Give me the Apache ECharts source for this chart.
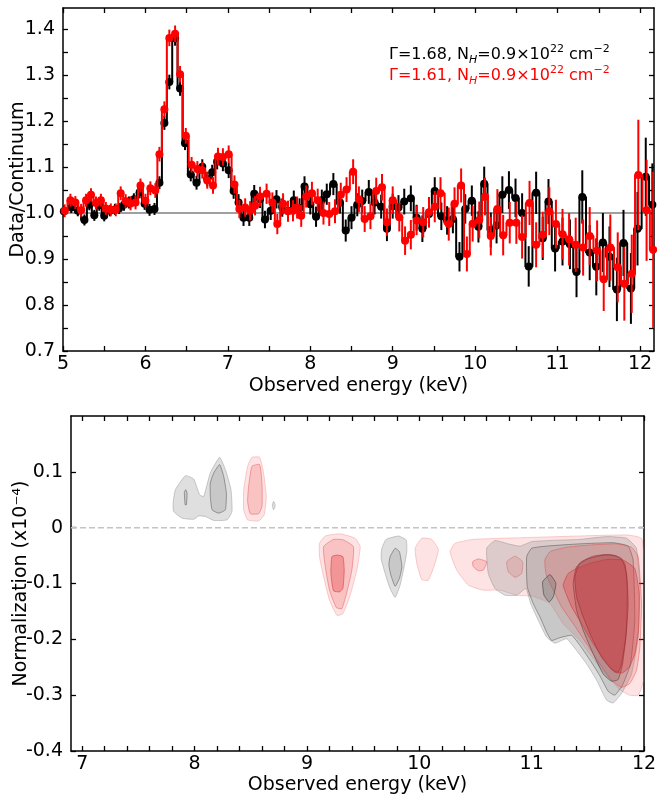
<!DOCTYPE html>
<html><head><meta charset="utf-8">
<script src="https://cdn.jsdelivr.net/npm/echarts@6/dist/echarts.min.js"></script>
<style>html,body{margin:0;padding:0;background:#fff}#c{width:657px;height:798px}</style>
</head><body><div id="c"></div>
<script>
const FONT = 'DejaVu Sans';

// ---------- top panel: [energy keV, data/continuum, 1-sigma error] ----------
const blackData = [
[5.01,1.004,0.012],[5.10,1.012,0.012],[5.18,1.005,0.012],[5.26,0.985,0.012],[5.32,1.018,0.012],
[5.38,0.995,0.012],[5.44,1.017,0.012],[5.50,0.994,0.012],[5.57,1.005,0.012],[5.63,1.008,0.012],
[5.68,1.010,0.012],[5.74,1.018,0.013],[5.80,1.023,0.013],[5.86,1.030,0.013],[5.93,1.045,0.013],
[5.99,1.020,0.013],[6.05,1.007,0.013],[6.11,1.009,0.013],[6.17,1.066,0.014],[6.23,1.196,0.015],
[6.29,1.285,0.016],[6.36,1.380,0.016],[6.42,1.271,0.016],[6.48,1.152,0.015],[6.55,1.084,0.015],
[6.62,1.066,0.015],[6.69,1.101,0.016],[6.75,1.074,0.016],[6.81,1.089,0.016],[6.87,1.112,0.017],
[6.94,1.108,0.017],[7.01,1.093,0.017],[7.07,1.048,0.017],[7.13,1.023,0.018],[7.19,0.990,0.018],
[7.26,0.990,0.018],[7.32,1.042,0.019],[7.39,1.030,0.019],[7.45,0.986,0.019],[7.52,1.005,0.020],
[7.59,1.030,0.020],[7.66,1.012,0.020],[7.73,1.005,0.021],[7.80,1.028,0.021],[7.87,1.011,0.021],
[7.93,1.058,0.022],[8.00,1.019,0.022],[8.07,0.992,0.022],[8.14,1.028,0.023],[8.20,1.041,0.023],
[8.28,1.063,0.024],[8.36,1.023,0.024],[8.43,0.962,0.024],[8.50,0.990,0.025],[8.57,1.018,0.025],
[8.63,1.026,0.025],[8.71,1.046,0.026],[8.78,1.023,0.026],[8.86,1.014,0.026],[8.93,0.966,0.027],
[9.00,1.015,0.027],[9.07,1.012,0.027],[9.14,1.025,0.028],[9.22,1.032,0.028],[9.29,0.990,0.028],
[9.36,0.966,0.029],[9.44,0.998,0.029],[9.51,1.048,0.030],[9.59,0.993,0.030],[9.66,0.984,0.031],
[9.73,0.987,0.031],[9.81,0.905,0.032],[9.88,1.009,0.032],[9.96,1.027,0.033],[10.04,0.970,0.034],
[10.11,1.064,0.037],[10.19,0.963,0.038],[10.26,0.973,0.039],[10.33,1.040,0.040],[10.41,1.050,0.041],
[10.49,1.033,0.042],[10.57,1.000,0.043],[10.65,0.884,0.044],[10.74,1.044,0.046],[10.82,0.945,0.047],
[10.89,1.025,0.049],[10.97,0.923,0.050],[11.06,0.938,0.052],[11.15,0.932,0.054],[11.23,0.872,0.055],
[11.30,1.035,0.058],[11.39,0.914,0.060],[11.47,0.883,0.062],[11.55,0.936,0.064],[11.63,0.905,0.066],
[11.72,0.834,0.069],[11.80,0.935,0.072],[11.89,0.836,0.077],[11.97,0.966,0.080],[12.07,1.079,0.085],
[12.15,1.018,0.090]
];
const redData = [
[5.02,1.005,0.014],[5.09,1.028,0.014],[5.15,1.023,0.014],[5.22,1.006,0.014],[5.28,1.028,0.014],
[5.34,1.040,0.014],[5.40,1.022,0.014],[5.46,1.028,0.014],[5.52,1.010,0.014],[5.58,1.007,0.014],
[5.64,1.007,0.014],[5.70,1.043,0.015],[5.76,1.026,0.015],[5.82,1.021,0.015],[5.88,1.023,0.015],
[5.94,1.060,0.015],[6.00,1.027,0.015],[6.06,1.054,0.015],[6.12,1.049,0.016],[6.17,1.128,0.016],
[6.23,1.226,0.017],[6.29,1.381,0.018],[6.36,1.390,0.018],[6.42,1.302,0.018],[6.49,1.168,0.017],
[6.56,1.105,0.017],[6.63,1.096,0.017],[6.69,1.093,0.018],[6.75,1.071,0.018],[6.82,1.060,0.018],
[6.88,1.123,0.019],[6.94,1.122,0.019],[7.01,1.128,0.019],[7.08,1.062,0.020],[7.14,1.009,0.020],
[7.21,1.012,0.020],[7.27,1.005,0.021],[7.33,1.016,0.021],[7.39,1.036,0.021],[7.47,1.042,0.022],
[7.54,1.023,0.022],[7.60,0.976,0.022],[7.67,1.020,0.023],[7.73,1.004,0.023],[7.79,1.005,0.023],
[7.84,1.012,0.024],[7.89,0.994,0.024],[7.95,1.036,0.024],[8.02,1.043,0.025],[8.09,1.028,0.025],
[8.16,1.000,0.025],[8.23,0.998,0.026],[8.30,1.004,0.026],[8.37,1.040,0.026],[8.44,1.051,0.027],
[8.52,1.090,0.027],[8.59,1.030,0.028],[8.66,0.987,0.028],[8.73,0.993,0.028],[8.80,1.048,0.029],
[8.87,1.056,0.029],[8.93,0.980,0.030],[9.00,1.028,0.030],[9.08,0.991,0.031],[9.15,0.940,0.031],
[9.22,0.953,0.032],[9.29,0.984,0.032],[9.37,0.980,0.033],[9.44,1.002,0.033],[9.51,1.014,0.034],
[9.58,1.043,0.035],[9.68,0.976,0.036],[9.75,1.020,0.036],[9.83,1.060,0.037],[9.90,0.911,0.038],
[9.97,0.977,0.039],[10.05,0.985,0.040],[10.12,1.036,0.041],[10.19,0.950,0.042],[10.27,1.009,0.043],
[10.34,0.952,0.044],[10.42,0.979,0.045],[10.50,0.979,0.046],[10.57,0.948,0.047],[10.66,1.022,0.048],
[10.74,0.931,0.049],[10.82,0.953,0.050],[10.90,1.004,0.052],[10.98,0.976,0.053],[11.06,0.954,0.055],
[11.14,0.943,0.057],[11.22,0.931,0.059],[11.31,0.925,0.061],[11.39,0.950,0.063],[11.48,0.918,0.066],
[11.56,0.856,0.069],[11.64,0.925,0.072],[11.73,0.882,0.076],[11.81,0.846,0.080],[11.90,0.868,0.085],
[11.98,1.083,0.120],[12.08,1.006,0.110],[12.16,0.920,0.170]
];
const topRefLine = [[5, 1.0], [12.17, 1.0]];
const topXTicks = [5,5.5,6,6.5,7,7.5,8,8.5,9,9.5,10,10.5,11,11.5,12];
const topXLabels = [5,6,7,8,9,10,11,12];
const topYTicks = [0.7,0.75,0.8,0.85,0.9,0.95,1.0,1.05,1.1,1.15,1.2,1.25,1.3,1.35,1.4];
const topYLabels = [0.7,0.8,0.9,1.0,1.1,1.2,1.3,1.4];

// ---------- bottom panel: contour polygons [energy keV, normalization x1e-4] ----------
const botZeroLine = [[6.9, 0], [12, 0]];
const botXTicks = [7,7.2,7.4,7.6,7.8,8,8.2,8.4,8.6,8.8,9,9.2,9.4,9.6,9.8,10,10.2,10.4,10.6,10.8,11,11.2,11.4,11.6,11.8,12];
const botXLabels = [7,8,9,10,11,12];
const botYTicks = [-0.4,-0.3,-0.2,-0.1,0,0.1];
const botYLabels = [-0.4,-0.3,-0.2,-0.1,0,0.1];

const gray8Outer = [[7.809,0.044],[7.829,0.068],[7.918,0.093],[7.992,0.087],[8.045,0.059],[8.081,0.056],[8.140,0.098],[8.223,0.126],[8.274,0.104],[8.324,0.068],[8.333,0.029],[8.289,0.014],[8.170,0.013],[8.096,0.020],[8.037,0.021],[7.992,0.015],[7.889,0.017],[7.814,0.029]];
const gray8Inner = [[8.140,0.080],[8.170,0.098],[8.223,0.113],[8.259,0.092],[8.283,0.062],[8.274,0.032],[8.214,0.026],[8.156,0.032],[8.140,0.056]];
const gray8Spot = [[7.909,0.063],[7.921,0.068],[7.933,0.062],[7.927,0.041],[7.916,0.041]];
const red85Outer = [[8.437,0.068],[8.472,0.110],[8.511,0.126],[8.579,0.126],[8.614,0.098],[8.638,0.056],[8.620,0.023],[8.570,0.012],[8.472,0.014],[8.437,0.032]];
const red85Inner = [[8.481,0.074],[8.511,0.110],[8.579,0.113],[8.600,0.080],[8.600,0.038],[8.570,0.025],[8.496,0.025],[8.472,0.047]];
const gray87Dot = [[8.692,0.040],[8.703,0.047],[8.718,0.040],[8.703,0.032]];
const red93Outer = [[9.112,-0.028],[9.163,-0.015],[9.296,-0.011],[9.429,-0.019],[9.474,-0.034],[9.444,-0.076],[9.385,-0.121],[9.320,-0.154],[9.267,-0.157],[9.201,-0.130],[9.142,-0.082],[9.112,-0.052]];
const red93Mid = [[9.148,-0.034],[9.236,-0.021],[9.325,-0.022],[9.414,-0.034],[9.400,-0.076],[9.356,-0.115],[9.311,-0.145],[9.261,-0.143],[9.201,-0.112],[9.163,-0.070]];
const red93Inner = [[9.222,-0.052],[9.267,-0.049],[9.320,-0.052],[9.332,-0.076],[9.320,-0.109],[9.290,-0.115],[9.236,-0.113],[9.213,-0.082]];
const gray98Outer = [[9.667,-0.037],[9.705,-0.021],[9.814,-0.015],[9.883,-0.022],[9.889,-0.043],[9.865,-0.070],[9.829,-0.103],[9.785,-0.125],[9.740,-0.109],[9.696,-0.082],[9.660,-0.055]];
const gray98Inner = [[9.740,-0.052],[9.785,-0.037],[9.823,-0.043],[9.845,-0.070],[9.823,-0.091],[9.785,-0.105],[9.747,-0.085],[9.729,-0.067]];
const red100 = [[9.963,-0.037],[10.022,-0.019],[10.111,-0.021],[10.170,-0.039],[10.140,-0.064],[10.081,-0.094],[10.022,-0.093],[9.978,-0.064]];
const redC1 = [[10.274,-0.043],[10.318,-0.028],[10.481,-0.021],[11.074,-0.017],[11.844,-0.013],[11.978,-0.019],[12.0,-0.058],[12.0,-0.270],[11.950,-0.300],[11.870,-0.300],[11.785,-0.290],[11.607,-0.250],[11.429,-0.202],[11.281,-0.172],[11.163,-0.136],[11.014,-0.123],[10.867,-0.121],[10.718,-0.112],[10.570,-0.112],[10.437,-0.103],[10.333,-0.076]];
const redIsle1 = [[10.475,-0.061],[10.525,-0.056],[10.600,-0.061],[10.570,-0.076],[10.525,-0.077],[10.481,-0.070]];
const redIsle2 = [[10.778,-0.061],[10.852,-0.051],[10.920,-0.061],[10.911,-0.082],[10.852,-0.089],[10.793,-0.079]];
const grayC1 = [[10.600,-0.037],[10.674,-0.023],[10.792,-0.029],[10.896,-0.033],[11.000,-0.025],[11.163,-0.023],[11.429,-0.021],[11.667,-0.016],[11.844,-0.019],[11.933,-0.037],[11.963,-0.106],[11.948,-0.196],[11.889,-0.262],[11.800,-0.297],[11.725,-0.314],[11.667,-0.309],[11.578,-0.273],[11.489,-0.244],[11.400,-0.220],[11.311,-0.199],[11.207,-0.207],[11.133,-0.196],[11.059,-0.166],[10.991,-0.136],[10.949,-0.109],[10.867,-0.121],[10.763,-0.121],[10.674,-0.109],[10.614,-0.082]];
const grayC2 = [[10.956,-0.052],[11.000,-0.037],[11.133,-0.033],[11.429,-0.029],[11.725,-0.027],[11.859,-0.033],[11.903,-0.058],[11.918,-0.166],[11.880,-0.244],[11.809,-0.282],[11.740,-0.300],[11.681,-0.293],[11.601,-0.263],[11.512,-0.235],[11.423,-0.209],[11.356,-0.193],[11.252,-0.197],[11.178,-0.202],[11.133,-0.187],[11.074,-0.160],[11.014,-0.136],[10.961,-0.106]];
const grayC3 = [[11.370,-0.100],[11.400,-0.070],[11.489,-0.057],[11.637,-0.049],[11.756,-0.051],[11.829,-0.064],[11.850,-0.106],[11.844,-0.184],[11.809,-0.244],[11.770,-0.272],[11.711,-0.275],[11.637,-0.262],[11.548,-0.226],[11.459,-0.184],[11.400,-0.148]];
const grayCDot = [[11.098,-0.097],[11.163,-0.084],[11.216,-0.100],[11.192,-0.124],[11.157,-0.133],[11.110,-0.121]];
const redC2 = [[11.118,-0.058],[11.163,-0.043],[11.311,-0.035],[11.518,-0.031],[11.756,-0.029],[11.889,-0.035],[11.948,-0.052],[11.978,-0.136],[11.963,-0.214],[11.933,-0.256],[11.874,-0.279],[11.800,-0.286],[11.711,-0.273],[11.607,-0.244],[11.489,-0.208],[11.370,-0.172],[11.267,-0.142],[11.178,-0.106],[11.127,-0.082]];
const redC3 = [[11.281,-0.103],[11.326,-0.082],[11.400,-0.073],[11.518,-0.064],[11.667,-0.057],[11.814,-0.058],[11.918,-0.073],[11.957,-0.118],[11.951,-0.184],[11.918,-0.226],[11.868,-0.250],[11.809,-0.260],[11.740,-0.259],[11.652,-0.238],[11.548,-0.208],[11.444,-0.172],[11.356,-0.142]];
const redC4 = [[11.385,-0.088],[11.429,-0.063],[11.548,-0.051],[11.696,-0.048],[11.800,-0.055],[11.844,-0.082],[11.859,-0.136],[11.838,-0.196],[11.800,-0.244],[11.770,-0.259],[11.711,-0.254],[11.622,-0.232],[11.533,-0.196],[11.459,-0.160],[11.400,-0.124]];

// ---------- styles ----------
const STY = {
  grayLight: {fill:'rgba(150,150,150,0.30)', stroke:'rgba(120,120,120,0.45)'},
  grayMid:   {fill:'rgba(120,120,120,0.22)', stroke:'rgba(70,70,70,0.6)'},
  grayDark:  {fill:'rgba(90,90,90,0.26)',    stroke:'rgba(50,50,50,0.7)'},
  redLight:  {fill:'rgba(245,90,90,0.17)',   stroke:'rgba(240,110,110,0.4)'},
  redMid:    {fill:'rgba(240,70,70,0.20)',   stroke:'rgba(220,60,60,0.5)'},
  redDark:   {fill:'rgba(230,50,55,0.32)',   stroke:'rgba(200,40,40,0.6)'},
  redDeep:   {fill:'rgba(190,60,65,0.42)',   stroke:'rgba(150,30,40,0.6)'}
};
const layers = [
  [gray8Outer,'grayLight'],[gray8Inner,'grayMid'],[gray8Spot,'grayMid'],
  [red85Outer,'redLight'],[red85Inner,'redMid'],[gray87Dot,'grayLight'],
  [red93Outer,'redLight'],[red93Mid,'redMid'],[red93Inner,'redDark'],
  [gray98Outer,'grayLight'],[gray98Inner,'grayMid'],[red100,'redLight'],
  [redC1,'redLight'],[redIsle1,'redMid'],[redIsle2,'redMid'],
  [grayC1,'grayLight'],[grayC2,'grayMid'],[grayC3,'grayDark'],
  [redC2,'redMid'],[redC3,'redDark'],[grayCDot,'grayDark'],[redC4,'redDeep']
];

const chart = echarts.init(document.getElementById('c'), null, {renderer:'canvas'});
const AX = {color:'#000', width:1.5};
const TK = {color:'#000', width:1.3};
const LBL = {fontFamily:FONT, fontSize:19, color:'#000'};
const fmt1 = v => (Math.abs(v) < 1e-9 ? '0' : v.toFixed(1));

function xAx(grid, min, max, pos, ticks, labels, name, gap) {
  return {gridIndex:grid, type:'value', min:min, max:max, position:pos,
    axisLine:{show:true, onZero:false, lineStyle:AX},
    axisTick:{show:true, inside:true, length:5, customValues:ticks, lineStyle:TK},
    axisLabel: labels ? Object.assign({customValues:labels, margin:4}, LBL) : {show:false},
    splitLine:{show:false},
    name: name || '', nameLocation:'middle', nameGap: gap || 0, nameMoveOverlap:false, nameTextStyle: LBL};
}
function yAx(grid, min, max, pos, ticks, labels, name, gap) {
  return {gridIndex:grid, type:'value', min:min, max:max, position:pos,
    axisLine:{show:true, onZero:false, lineStyle:AX},
    axisTick:{show:true, inside:true, length:5, customValues:ticks, lineStyle:TK},
    axisLabel: labels ? Object.assign({customValues:labels, margin:8, formatter:fmt1}, LBL) : {show:false},
    splitLine:{show:false},
    name: name || '', nameLocation:'middle', nameGap: gap || 0, nameMoveOverlap:false, nameTextStyle: LBL};
}
function errRender(color) {
  return function (params, api) {
    const x = api.value(0), y = api.value(1), e = api.value(2);
    const p1 = api.coord([x, y - e]), p2 = api.coord([x, y + e]);
    return {type:'line', shape:{x1:p1[0], y1:p1[1], x2:p2[0], y2:p2[1]}, style:{stroke:color, lineWidth:2}};
  };
}
function stepSeries(data, color, z) {
  return {type:'line', xAxisIndex:0, yAxisIndex:0, data:data.map(d => [d[0], d[1]]), step:'middle',
    symbol:'circle', symbolSize:8, showAllSymbol:true, itemStyle:{color:color},
    lineStyle:{color:color, width:2}, z:z, silent:true, clip:true};
}
function errSeries(data, color, z) {
  return {type:'custom', xAxisIndex:0, yAxisIndex:0, data:data, encode:{x:0, y:1},
    renderItem: errRender(color), z:z, silent:true, clip:true};
}

const rich = col => ({
  n:{fontFamily:FONT, fontSize:16, fill:col, lineHeight:22},
  s:{fontFamily:FONT, fontSize:11, fontStyle:'italic', fill:col, verticalAlign:'bottom', lineHeight:10},
  p:{fontFamily:FONT, fontSize:11, fill:col, verticalAlign:'top', lineHeight:12}
});

const option = {
  animation:false,
  backgroundColor:'#fff',
  grid:[{left:63, top:8, width:591, height:343, outerBoundsMode:'none', containLabel:false},
        {left:71, top:416, width:573, height:335, outerBoundsMode:'none', containLabel:false}],
  xAxis:[
    xAx(0, 5, 12.17, 'bottom', topXTicks, topXLabels, 'Observed energy (keV)', 26),
    xAx(0, 5, 12.17, 'top', topXTicks, null),
    xAx(1, 6.9, 12, 'bottom', botXTicks, botXLabels, 'Observed energy (keV)', 25),
    xAx(1, 6.9, 12, 'top', botXTicks, null)
  ],
  yAxis:[
    yAx(0, 0.7, 1.446, 'left', topYTicks, topYLabels, 'Data/Continuum', 35),
    yAx(0, 0.7, 1.446, 'right', topYTicks, null),
    yAx(1, -0.4, 0.2, 'left', botYTicks, botYLabels, 'Normalization (x10\u207B\u2074)', 40),
    yAx(1, -0.4, 0.2, 'right', botYTicks, null)
  ],
  series:[
    {type:'line', xAxisIndex:0, yAxisIndex:0, data:topRefLine, symbol:'none', lineStyle:{color:'#7f7f7f', width:1.5}, z:1, silent:true},
    errSeries(blackData, '#000', 2),
    stepSeries(blackData, '#000', 3),
    errSeries(redData, '#ff0000', 4),
    stepSeries(redData, '#ff0000', 5),
    {type:'line', xAxisIndex:2, yAxisIndex:2, data:botZeroLine, symbol:'none', lineStyle:{color:'#c4c4c4', width:1.5, type:[6,3]}, z:1, silent:true},
    {type:'custom', xAxisIndex:2, yAxisIndex:2, clip:true, silent:true, z:2,
      data: layers.map((l, i) => [l[0][0][0], l[0][0][1], i]), encode:{x:0, y:1},
      renderItem: function (params, api) {
        const L = layers[params.dataIndex];
        const st = STY[L[1]];
        const pts = L[0].map(p => api.coord(p));
        return {type:'polygon', shape:{points:pts, smooth:0.15}, style:{fill:st.fill, stroke:st.stroke, lineWidth:0.8}};
      }}
  ],
  graphic:[
    {type:'text', left:389, top:44, silent:true, style:{text:'{n|\u0393=1.68, N}{s|H}{n|=0.9\u00D710}{p|22}{n| cm}{p|\u22122}', rich:rich('#000')}},
    {type:'text', left:389, top:65, silent:true, style:{text:'{n|\u0393=1.61, N}{s|H}{n|=0.9\u00D710}{p|22}{n| cm}{p|\u22122}', rich:rich('#ff0000')}}
  ]
};
chart.setOption(option);
</script>
</body></html>
